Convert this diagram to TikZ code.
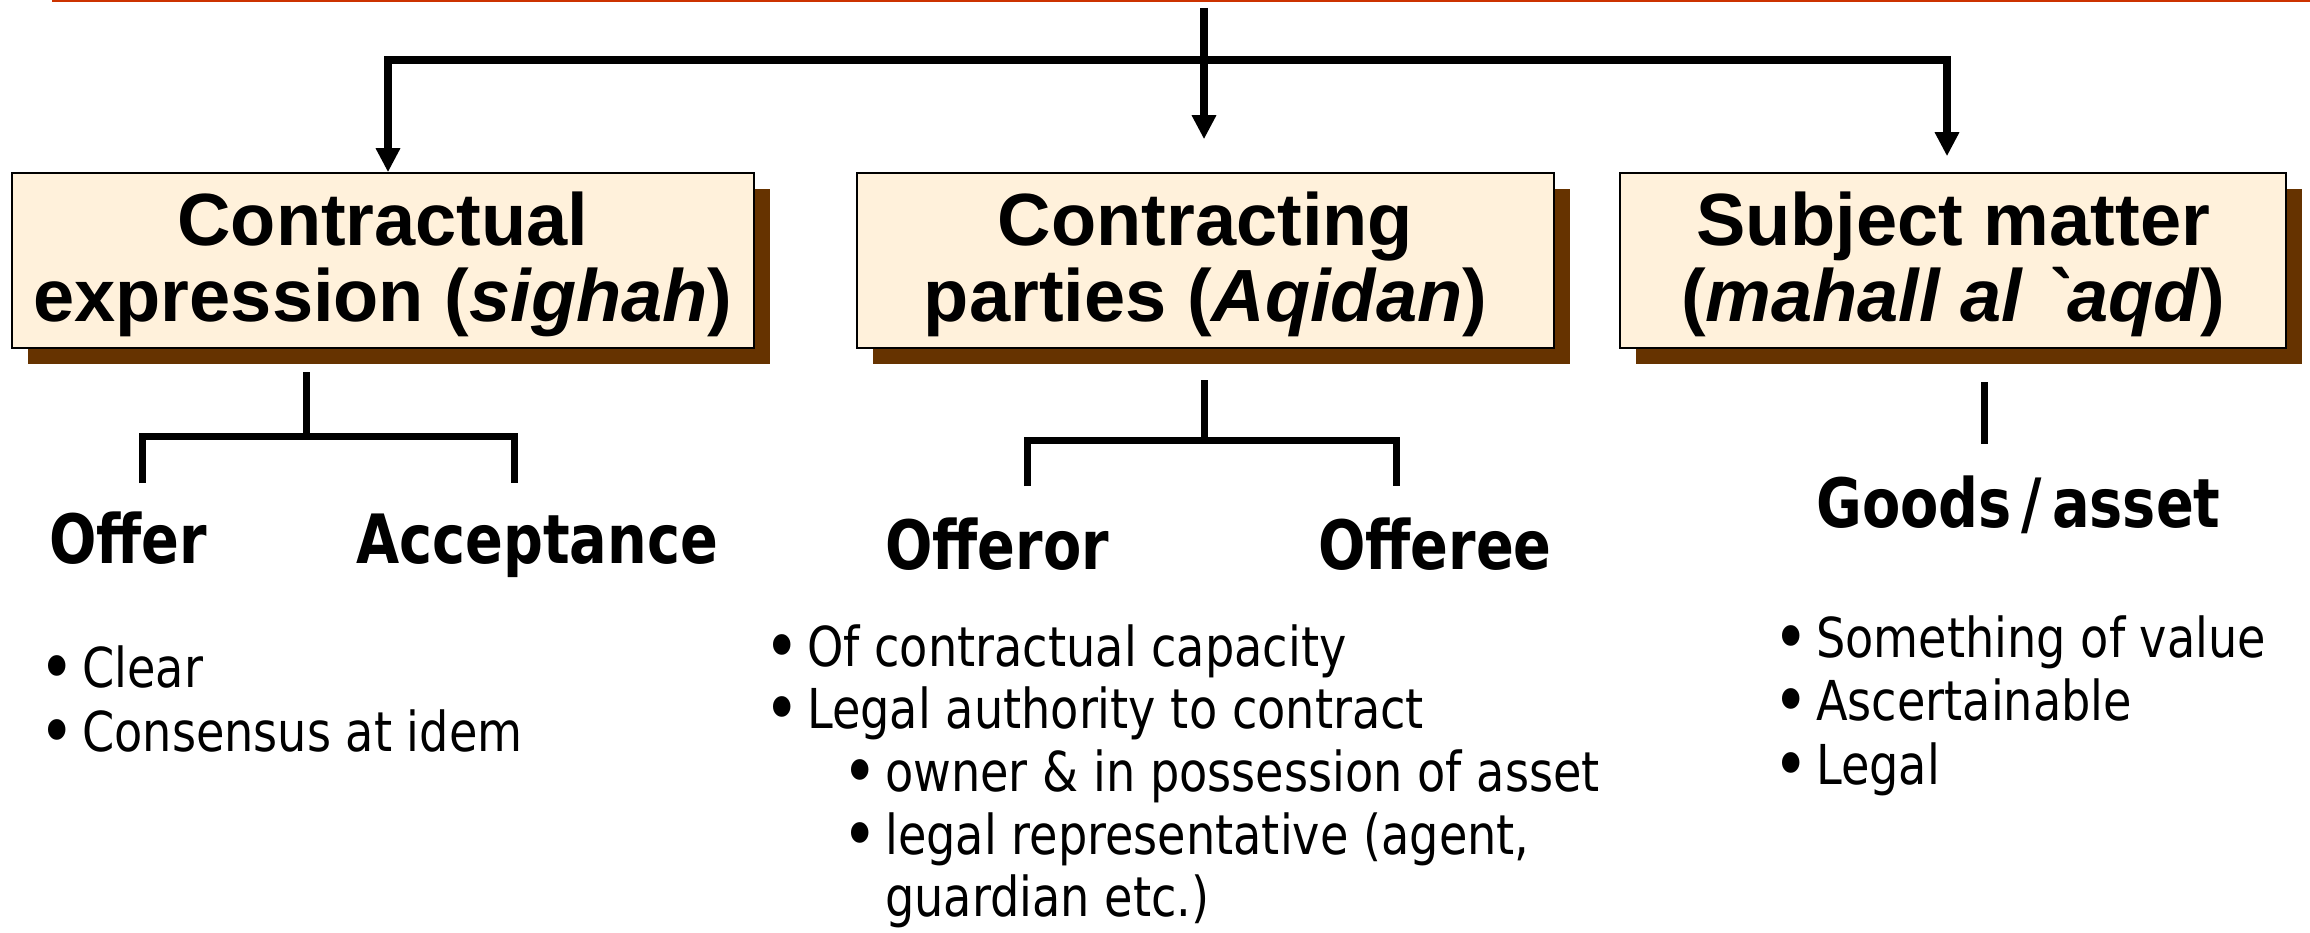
\documentclass[tikz,border=0pt]{standalone}
\usepackage{fontspec}
\setmainfont{Liberation Sans}
\newfontfamily\labelfont[FakeStretch=0.82]{DejaVu Sans}
\newfontfamily\listfont[FakeStretch=0.84]{DejaVu Sans}
\usetikzlibrary{arrows.meta,shadows}

\definecolor{cream}{HTML}{FFF1DB}
\definecolor{shadowbrown}{HTML}{663300}
\definecolor{topline}{HTML}{CC3300}

% bullet followed by a fixed gap before the item text
\newcommand\bul{\makebox[43pt][l]{\smash{\raisebox{-5pt}{\scalebox{1.3}{\textbullet}}}}}
% plain grave mark, not turned into a quote
\newcommand\plaingrave{{\addfontfeatures{Ligatures=TeXOff}\char"60}}

\tikzset{
  titlebox/.style={draw=black, line width=1.5pt, fill=cream, minimum height=175pt,
    align=center, inner sep=0pt, text depth=8pt,
    font=\fontsize{74}{76}\selectfont\bfseries,
    drop shadow={shadow xshift=16pt, shadow yshift=-16pt, fill=shadowbrown, opacity=1}},
  trunk/.style={line width=8pt},
  feed/.style={line width=8pt, -{Triangle[length=24pt,width=23pt]}},
  branch/.style={line width=7pt, line join=miter},
  sublabel/.style={anchor=base west, inner sep=0pt,
    font=\labelfont\bfseries\fontsize{68}{68}\selectfont},
  item/.style={anchor=base west, inner sep=0pt, text height=40pt, text depth=12pt,
    font=\listfont\fontsize{55}{63}\selectfont},
}

\begin{document}
\begin{tikzpicture}[x=1pt, y=-1pt]
  \useasboundingbox (0,0) rectangle (2310,933);

  % rule along the top edge
  \fill[topline] (52,0) rectangle (2310,2.5);

  % the three pillars
  \node[titlebox, minimum width=742pt] (sighah) at (383,260.5)
    {Contractual\\expression (\textit{sighah})};
  \node[titlebox, minimum width=697pt] (aqidan) at (1205.5,260.5)
    {Contracting\\parties (\textit{Aqidan})};
  \node[titlebox, minimum width=666pt] (mahall) at (1953,260.5)
    {Subject matter\\(\textit{mahall al \plaingrave aqd})};

  % feed from above into the pillars
  \coordinate (src) at (1204,8);
  \coordinate (jl) at (388,60);
  \coordinate (jr) at (1947,60);
  \draw[trunk] ([xshift=-4pt]jl) -- ([xshift=4pt]jr);
  \draw[feed] (jl) -- ([xshift=5pt]sighah.north);
  \draw[feed] (src) -- ([xshift=-1.5pt,yshift=33pt]aqidan.north);
  \draw[feed] (jr) -- ([xshift=-6pt,yshift=16pt]mahall.north);

  % first pillar: offer and acceptance
  \coordinate (t1) at (306,372);
  \coordinate (m1) at (306,436);
  \coordinate (l1) at (142,483);
  \coordinate (r1) at (514,483);
  \draw[branch] (t1) -- (m1);
  \draw[branch] (l1) |- (m1) -| (r1);
  \node[sublabel] (offer) at (49,563) {Offer};
  \node[sublabel] (accept) at (356,563) {Acceptance};
  \node[item] (c1) at (39,687) {\bul Clear};
  \node[item] (c2) at (39,751) {\bul Consensus at idem};

  % second pillar: the two parties
  \coordinate (t2) at (1204,380);
  \coordinate (m2) at (1204,440);
  \coordinate (l2) at (1027,486);
  \coordinate (r2) at (1396,486);
  \draw[branch] (t2) -- (m2);
  \draw[branch] (l2) |- (m2) -| (r2);
  \node[sublabel] (offeror) at (885,569) {Offeror};
  \node[sublabel] (offeree) at (1318,569) {Offeree};
  \node[item] (p1) at (764,666) {\bul Of contractual capacity};
  \node[item] (p2) at (764,728) {\bul Legal authority to contract};
  \node[item] (p3) at (842,791) {\bul owner \& in possession of asset};
  \node[item] (p4) at (842,854) {\bul legal representative (agent,};
  \node[item] (p5) at (885,916) {guardian etc.)};

  % third pillar: the asset
  \coordinate (t3) at (1984,382);
  \coordinate (b3) at (1984,444);
  \draw[branch] (t3) -- (b3);
  \node[sublabel] (goods) at (1816,527) {Goods\kern10pt/\kern10pt asset};
  \node[item] (g1) at (1773,657) {\bul Something of value};
  \node[item] (g2) at (1773,720) {\bul Ascertainable};
  \node[item] (g3) at (1773,784) {\bul Legal};
\end{tikzpicture}
\end{document}
